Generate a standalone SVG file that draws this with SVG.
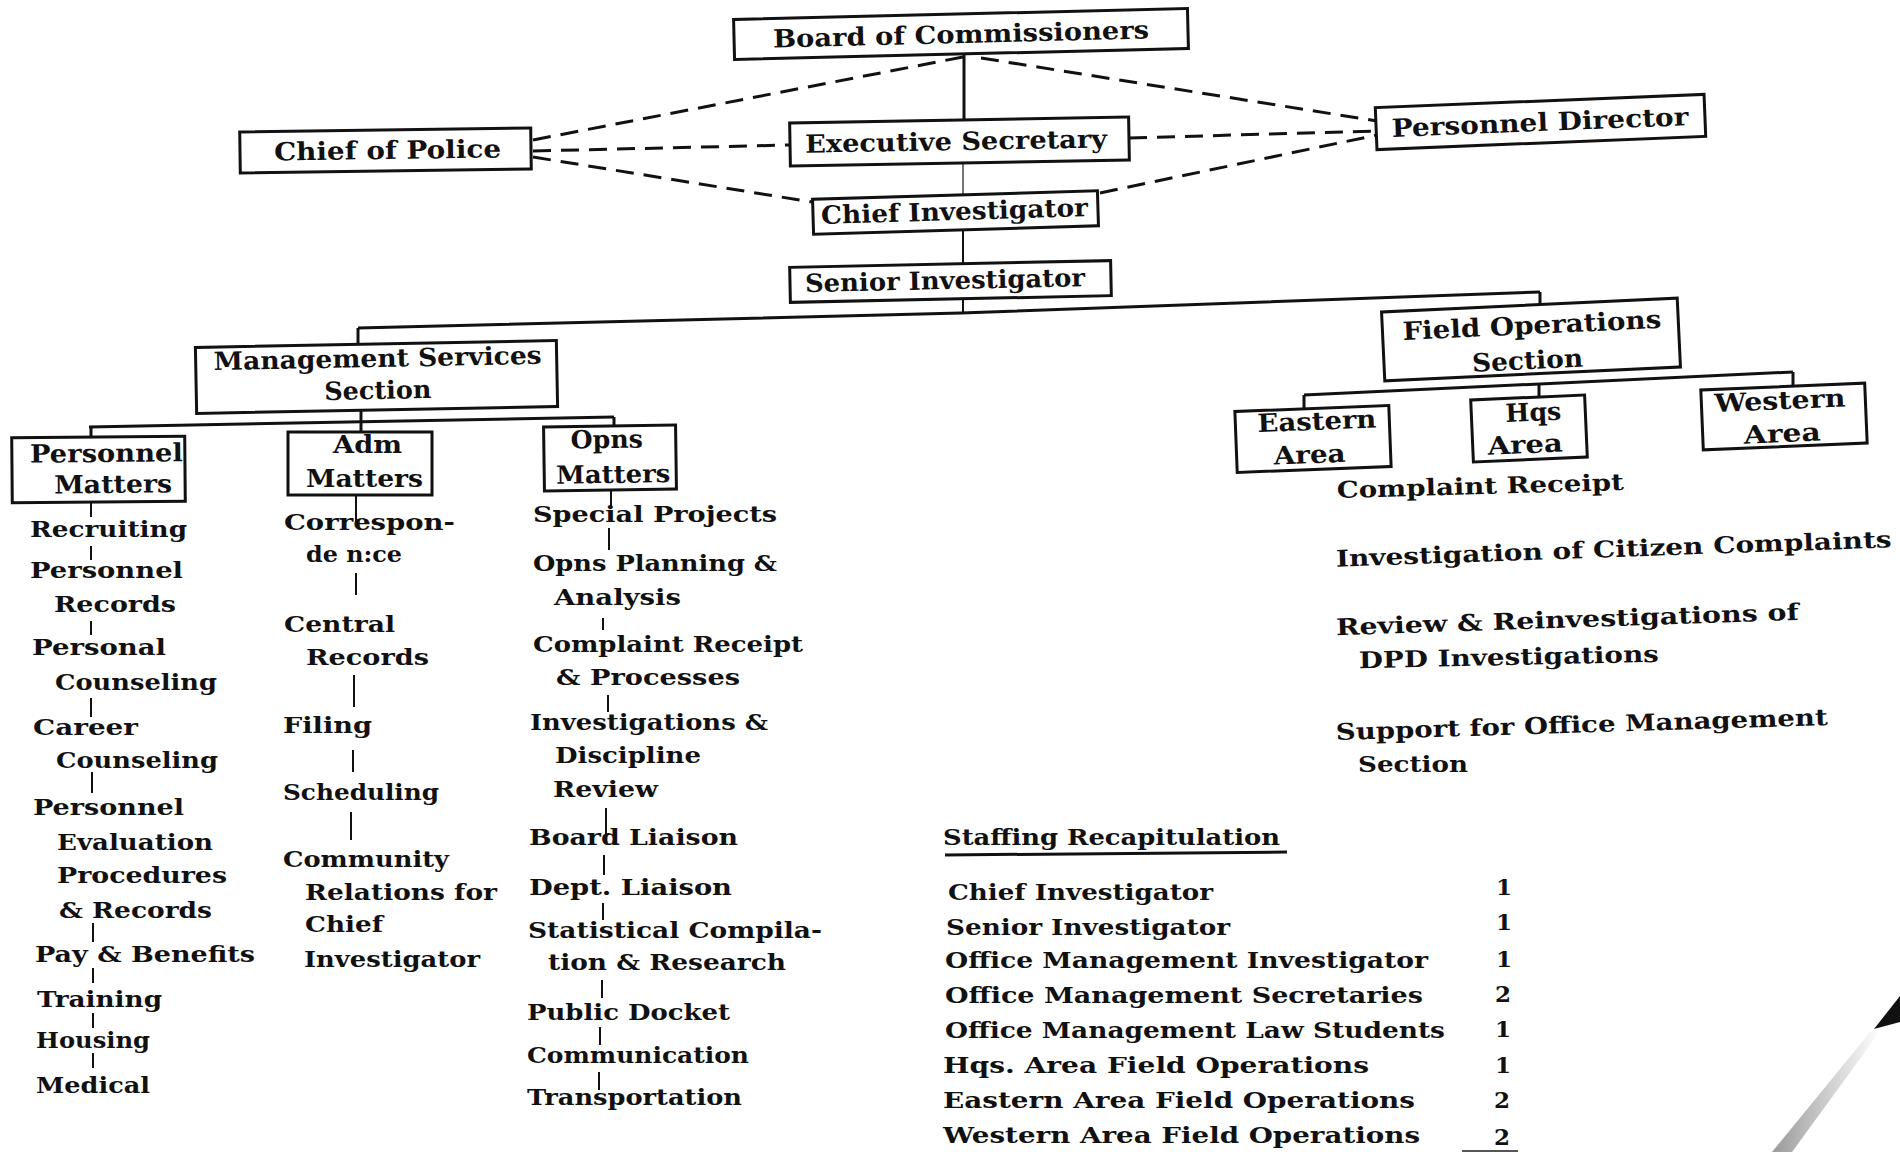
<svg xmlns="http://www.w3.org/2000/svg" width="1900" height="1152" viewBox="0 0 1900 1152">
<defs>
<style>
.box{fill:none;stroke:#111;stroke-width:3}
.t{font-family:"DejaVu Serif","Liberation Serif",serif;font-weight:bold;fill:#111}
.bl{font-size:25px}
.li{font-size:23px}
.m{text-anchor:middle}
.ln{stroke:#111;stroke-width:3;fill:none}
.thin{stroke:#111;stroke-width:2;fill:none}
.dash{stroke:#111;stroke-width:3;stroke-dasharray:18 10;fill:none}
.tick{stroke:#111;stroke-width:2}
</style>
<linearGradient id="curl" x1="0" y1="0" x2="1" y2="0">
<stop offset="0" stop-color="#9a9a9a"/>
<stop offset="1" stop-color="#ffffff"/>
</linearGradient>
</defs>
<rect x="0" y="0" width="1900" height="1152" fill="#ffffff"/>

<g id="connectors">
<line class="ln" x1="964" y1="55" x2="964" y2="120"/>
<line stroke="#444" stroke-width="1.5" x1="963" y1="163" x2="963" y2="195"/>
<line class="thin" x1="963" y1="230" x2="963" y2="264"/>
<line class="thin" x1="963" y1="298" x2="963" y2="313"/>
<polyline class="ln" stroke-width="3.5" points="358,328 961,313 1540,292"/>
<line class="ln" x1="358" y1="328" x2="358" y2="344"/>
<line class="ln" x1="1540" y1="292" x2="1540" y2="305"/>
<line class="ln" x1="361" y1="410" x2="361" y2="422"/>
<line class="ln" x1="89" y1="427" x2="614" y2="417"/>
<line class="ln" x1="91" y1="427" x2="91" y2="438"/>
<line class="ln" x1="361" y1="422" x2="361" y2="432"/>
<line class="ln" x1="614" y1="417" x2="614" y2="427"/>
<line class="ln" x1="1304" y1="395" x2="1793" y2="372"/>
<line class="ln" x1="1304" y1="395" x2="1304" y2="408"/>
<line class="ln" x1="1539" y1="384" x2="1539" y2="398"/>
<line class="ln" x1="1793" y1="372" x2="1793" y2="385"/>
<line class="dash" x1="533" y1="140" x2="963" y2="57"/>
<line class="dash" x1="533" y1="151" x2="790" y2="145"/>
<line class="dash" x1="533" y1="157" x2="812" y2="202"/>
<line class="dash" x1="981" y1="58" x2="1377" y2="121"/>
<line class="dash" x1="1129" y1="138" x2="1377" y2="131"/>
<line class="dash" x1="1100" y1="193" x2="1377" y2="135"/>
<line class="tick" x1="91" y1="503" x2="91" y2="517"/>
<line class="tick" x1="91" y1="546" x2="91" y2="560"/>
<line class="tick" x1="91" y1="621" x2="91" y2="635"/>
<line class="tick" x1="91" y1="698" x2="91" y2="717"/>
<line class="tick" x1="92" y1="772" x2="92" y2="793"/>
<line class="tick" x1="93" y1="923" x2="93" y2="942"/>
<line class="tick" x1="93" y1="968" x2="93" y2="983"/>
<line class="tick" x1="93" y1="1013" x2="93" y2="1028"/>
<line class="tick" x1="93" y1="1053" x2="93" y2="1068"/>
<line class="tick" x1="356" y1="495" x2="356" y2="523"/>
<line class="tick" x1="356" y1="573" x2="356" y2="595"/>
<line class="tick" x1="354" y1="675" x2="354" y2="707"/>
<line class="tick" x1="353" y1="750" x2="353" y2="772"/>
<line class="tick" x1="351" y1="812" x2="351" y2="840"/>
<line class="tick" x1="611" y1="490" x2="611" y2="507"/>
<line class="tick" x1="609" y1="528" x2="609" y2="550"/>
<line class="tick" x1="603" y1="618" x2="603" y2="630"/>
<line class="tick" x1="608" y1="695" x2="608" y2="712"/>
<line class="tick" x1="606" y1="808" x2="606" y2="837"/>
<line class="tick" x1="604" y1="855" x2="604" y2="875"/>
<line class="tick" x1="603" y1="903" x2="603" y2="920"/>
<line class="tick" x1="602" y1="980" x2="602" y2="998"/>
<line class="tick" x1="600" y1="1027" x2="600" y2="1045"/>
<line class="tick" x1="599" y1="1072" x2="599" y2="1090"/>
</g>

<g id="board" transform="rotate(-1.4 961 34)">
<rect class="box" x="734" y="14" width="454" height="40"/>
<text class="t bl m" x="961" y="43" textLength="376" lengthAdjust="spacingAndGlyphs">Board of Commissioners</text>
</g>
<g id="chief-of-police" transform="rotate(-0.8 385.5 150.5)">
<rect class="box" x="240" y="130" width="291" height="41"/>
<text class="t bl m" x="387.5" y="159" textLength="227" lengthAdjust="spacingAndGlyphs">Chief of Police</text>
</g>
<g id="executive-secretary" transform="rotate(-1 959.5 141.5)">
<rect class="box" x="790" y="120" width="339" height="43"/>
<text class="t bl m" x="956" y="150" textLength="302" lengthAdjust="spacingAndGlyphs">Executive Secretary</text>
</g>
<g id="personnel-director" transform="rotate(-2.3 1540.5 122)">
<rect class="box" x="1376" y="101" width="329" height="42"/>
<text class="t bl m" x="1540" y="131" textLength="297" lengthAdjust="spacingAndGlyphs">Personnel Director</text>
</g>
<g id="chief-investigator" transform="rotate(-1.7 955.5 212.5)">
<rect class="box" x="813" y="195" width="285" height="35"/>
<text class="t bl m" x="954.5" y="220" textLength="267" lengthAdjust="spacingAndGlyphs">Chief Investigator</text>
</g>
<g id="senior-investigator" transform="rotate(-1.2 950.5 281.5)">
<rect class="box" x="790" y="264" width="321" height="35"/>
<text class="t bl m" x="945" y="289" textLength="280" lengthAdjust="spacingAndGlyphs">Senior Investigator</text>
</g>
<g id="management-services" transform="rotate(-1.1 376.5 377)">
<rect class="box" x="196" y="344" width="361" height="66"/>
<text class="t bl m" x="378" y="367" textLength="328" lengthAdjust="spacingAndGlyphs">Management Services</text>
<text class="t bl m" x="377.5" y="399" textLength="107" lengthAdjust="spacingAndGlyphs">Section</text>
</g>
<g id="personnel-matters" transform="rotate(-0.5 98.5 469.5)">
<rect class="box" x="12" y="437" width="173" height="65"/>
<text class="t bl m" x="106.5" y="462" textLength="153" lengthAdjust="spacingAndGlyphs">Personnel</text>
<text class="t bl m" x="113" y="493" textLength="118" lengthAdjust="spacingAndGlyphs">Matters</text>
</g>
<g id="adm-matters">
<rect class="box" x="288" y="432" width="144" height="63"/>
<text class="t bl m" x="367.5" y="453" textLength="69" lengthAdjust="spacingAndGlyphs">Adm</text>
<text class="t bl m" x="364.5" y="487" textLength="117" lengthAdjust="spacingAndGlyphs">Matters</text>
</g>
<g id="opns-matters" transform="rotate(-0.8 610 458)">
<rect class="box" x="544" y="426" width="132" height="64"/>
<text class="t bl m" x="607" y="448" textLength="72" lengthAdjust="spacingAndGlyphs">Opns</text>
<text class="t bl m" x="613" y="483" textLength="114" lengthAdjust="spacingAndGlyphs">Matters</text>
</g>
<g id="field-operations" transform="rotate(-2.7 1531 339.5)">
<rect class="box" x="1383" y="305" width="296" height="69"/>
<text class="t bl m" x="1532.5" y="334" textLength="259" lengthAdjust="spacingAndGlyphs">Field Operations</text>
<text class="t bl m" x="1526.5" y="369" textLength="111" lengthAdjust="spacingAndGlyphs">Section</text>
</g>
<g id="eastern-area" transform="rotate(-2.2 1313 439)">
<rect class="box" x="1236" y="408.5" width="154" height="61"/>
<text class="t bl m" x="1317.5" y="430" textLength="119" lengthAdjust="spacingAndGlyphs">Eastern</text>
<text class="t bl m" x="1309" y="463" textLength="72" lengthAdjust="spacingAndGlyphs">Area</text>
</g>
<g id="hqs-area" transform="rotate(-2.5 1529 428.5)">
<rect class="box" x="1472" y="397.5" width="114" height="62"/>
<text class="t bl m" x="1534" y="421" textLength="56" lengthAdjust="spacingAndGlyphs">Hqs</text>
<text class="t bl m" x="1524.5" y="453" textLength="75" lengthAdjust="spacingAndGlyphs">Area</text>
</g>
<g id="western-area" transform="rotate(-2.4 1784 416.5)">
<rect class="box" x="1702" y="386.5" width="164" height="60"/>
<text class="t bl m" x="1780.5" y="409" textLength="131" lengthAdjust="spacingAndGlyphs">Western</text>
<text class="t bl m" x="1781.5" y="442" textLength="77" lengthAdjust="spacingAndGlyphs">Area</text>
</g>

<g id="personnel-list" class="t li">
<text x="30" y="537" textLength="157" lengthAdjust="spacingAndGlyphs">Recruiting</text>
<text x="30" y="578" textLength="153" lengthAdjust="spacingAndGlyphs">Personnel</text>
<text x="54" y="612" textLength="122" lengthAdjust="spacingAndGlyphs">Records</text>
<text x="32" y="655" textLength="134" lengthAdjust="spacingAndGlyphs">Personal</text>
<text x="55" y="690" textLength="162" lengthAdjust="spacingAndGlyphs">Counseling</text>
<text x="33" y="735" textLength="105" lengthAdjust="spacingAndGlyphs">Career</text>
<text x="56" y="768" textLength="162" lengthAdjust="spacingAndGlyphs">Counseling</text>
<text x="33" y="815" textLength="151" lengthAdjust="spacingAndGlyphs">Personnel</text>
<text x="57" y="850" textLength="156" lengthAdjust="spacingAndGlyphs">Evaluation</text>
<text x="57" y="883" textLength="170" lengthAdjust="spacingAndGlyphs">Procedures</text>
<text x="59" y="918" textLength="153" lengthAdjust="spacingAndGlyphs">&amp; Records</text>
<text x="35" y="962" textLength="220" lengthAdjust="spacingAndGlyphs">Pay &amp; Benefits</text>
<text x="37" y="1007" textLength="125" lengthAdjust="spacingAndGlyphs">Training</text>
<text x="36" y="1048" textLength="114" lengthAdjust="spacingAndGlyphs">Housing</text>
<text x="36" y="1093" textLength="114" lengthAdjust="spacingAndGlyphs">Medical</text>
</g>
<g id="adm-list" class="t li">
<text x="284" y="530" textLength="171" lengthAdjust="spacingAndGlyphs">Correspon-</text>
<text x="306" y="562" textLength="96" lengthAdjust="spacingAndGlyphs">de n:ce</text>
<text x="284" y="632" textLength="111" lengthAdjust="spacingAndGlyphs">Central</text>
<text x="306" y="665" textLength="123" lengthAdjust="spacingAndGlyphs">Records</text>
<text x="283" y="733" textLength="89" lengthAdjust="spacingAndGlyphs">Filing</text>
<text x="283" y="800" textLength="156" lengthAdjust="spacingAndGlyphs">Scheduling</text>
<text x="283" y="867" textLength="166" lengthAdjust="spacingAndGlyphs">Community</text>
<text x="305" y="900" textLength="192" lengthAdjust="spacingAndGlyphs">Relations for</text>
<text x="305" y="932" textLength="78" lengthAdjust="spacingAndGlyphs">Chief</text>
<text x="304" y="967" textLength="176" lengthAdjust="spacingAndGlyphs">Investigator</text>
</g>
<g id="opns-list" class="t li">
<text x="533" y="522" textLength="244" lengthAdjust="spacingAndGlyphs">Special Projects</text>
<text x="533" y="571" textLength="244" lengthAdjust="spacingAndGlyphs">Opns Planning &amp;</text>
<text x="554" y="605" textLength="127" lengthAdjust="spacingAndGlyphs">Analysis</text>
<text x="533" y="652" textLength="270" lengthAdjust="spacingAndGlyphs">Complaint Receipt</text>
<text x="556" y="685" textLength="184" lengthAdjust="spacingAndGlyphs">&amp; Processes</text>
<text x="530" y="730" textLength="238" lengthAdjust="spacingAndGlyphs">Investigations &amp;</text>
<text x="555" y="763" textLength="146" lengthAdjust="spacingAndGlyphs">Discipline</text>
<text x="553" y="797" textLength="105" lengthAdjust="spacingAndGlyphs">Review</text>
<text x="529" y="845" textLength="209" lengthAdjust="spacingAndGlyphs">Board Liaison</text>
<text x="529" y="895" textLength="203" lengthAdjust="spacingAndGlyphs">Dept. Liaison</text>
<text x="528" y="938" textLength="294" lengthAdjust="spacingAndGlyphs">Statistical Compila-</text>
<text x="548" y="970" textLength="238" lengthAdjust="spacingAndGlyphs">tion &amp; Research</text>
<text x="527" y="1020" textLength="203" lengthAdjust="spacingAndGlyphs">Public Docket</text>
<text x="527" y="1063" textLength="222" lengthAdjust="spacingAndGlyphs">Communication</text>
<text x="527" y="1105" textLength="215" lengthAdjust="spacingAndGlyphs">Transportation</text>
</g>
<g id="field-functions" class="t li m">
<text x="1480.5" y="494" transform="rotate(-1.6 1480.5 494)" textLength="287" lengthAdjust="spacingAndGlyphs">Complaint Receipt</text>
<text x="1614" y="557" transform="rotate(-2 1614 557)" textLength="556" lengthAdjust="spacingAndGlyphs">Investigation of Citizen Complaints</text>
<text x="1567.5" y="627.5" transform="rotate(-1.9 1567.5 627.5)" textLength="463" lengthAdjust="spacingAndGlyphs">Review &amp; Reinvestigations of</text>
<text x="1509" y="665" transform="rotate(-1.2 1509 665)" textLength="300" lengthAdjust="spacingAndGlyphs">DPD Investigations</text>
<text x="1582" y="732.5" transform="rotate(-1.75 1582 732.5)" textLength="492" lengthAdjust="spacingAndGlyphs">Support for Office Management</text>
<text x="1413" y="772" textLength="110" lengthAdjust="spacingAndGlyphs">Section</text>
</g>
<g id="staffing" class="t li">
<text x="943" y="845" textLength="337" lengthAdjust="spacingAndGlyphs">Staffing Recapitulation</text>
<line class="ln" x1="945" y1="855" x2="1287" y2="852"/>
<text x="948" y="900" textLength="265" lengthAdjust="spacingAndGlyphs">Chief Investigator</text>
<text x="946" y="935" textLength="284" lengthAdjust="spacingAndGlyphs">Senior Investigator</text>
<text x="945" y="968" textLength="483" lengthAdjust="spacingAndGlyphs">Office Management Investigator</text>
<text x="945" y="1003" textLength="478" lengthAdjust="spacingAndGlyphs">Office Management Secretaries</text>
<text x="945" y="1038" textLength="500" lengthAdjust="spacingAndGlyphs">Office Management Law Students</text>
<text x="943" y="1073" textLength="426" lengthAdjust="spacingAndGlyphs">Hqs. Area Field Operations</text>
<text x="943" y="1108" textLength="472" lengthAdjust="spacingAndGlyphs">Eastern Area Field Operations</text>
<text x="943" y="1143" textLength="477" lengthAdjust="spacingAndGlyphs">Western Area Field Operations</text>
<text class="m" x="1504" y="895">1</text>
<text class="m" x="1504" y="930">1</text>
<text class="m" x="1504" y="967">1</text>
<text class="m" x="1503" y="1002">2</text>
<text class="m" x="1503" y="1037">1</text>
<text class="m" x="1503" y="1073">1</text>
<text class="m" x="1502" y="1108">2</text>
<text class="m" x="1502" y="1145">2</text>
<line stroke="#555" stroke-width="2" x1="1462" y1="1151" x2="1518" y2="1151"/>
</g>

<g id="page-curl">
<polygon points="1872,1030 1881,1030 1792,1152 1772,1152" fill="url(#curl)"/>
<polygon points="1874,1029 1900,996 1900,1022" fill="#111"/>
</g>
</svg>
